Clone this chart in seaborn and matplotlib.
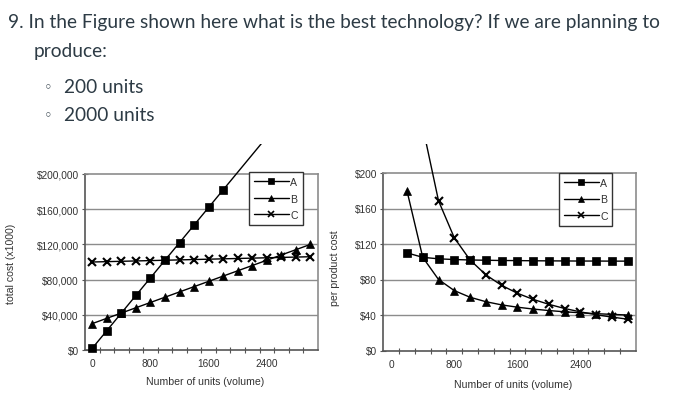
import matplotlib
matplotlib.use("Agg")
import matplotlib.pyplot as plt
import seaborn as sns
import pandas as pd
from matplotlib.patches import Rectangle
from matplotlib.lines import Line2D
from matplotlib.ticker import FixedLocator, NullFormatter

# ---------------- data ----------------
units = [0, 200, 400, 600, 800, 1000, 1200, 1400, 1600, 1800,
         2000, 2200, 2400, 2600, 2800, 3000]
total_A = [2000, 22000, 42000, 62000, 82000, 102000, 122000, 142000, 162000,
           182000, 202000, 222000, 242000, 262000, 282000, 302000]
total_B = [30000, 36000, 42000, 48000, 54000, 60000, 66000, 72000, 78000,
           84000, 90000, 96000, 102000, 108000, 114000, 120000]
total_C = [100000, 100400, 100800, 101200, 101600, 102000, 102400, 102800,
           103200, 103600, 104000, 104400, 104800, 105200, 105600, 106000]

unit_units = [200, 400, 600, 800, 1000, 1200, 1400, 1600, 1800,
              2000, 2200, 2400, 2600, 2800, 3000]
unit_A = [110, 105, 103.3, 102.5, 102, 101.7, 101.4, 101.3, 101.1,
          101, 100.9, 100.8, 100.8, 100.7, 100.7]
unit_B = [180, 105, 80, 67.5, 60, 55, 51.4, 48.8, 46.7,
          45, 43.6, 42.5, 41.5, 40.7, 40]
unit_C = [502, 252, 168.7, 127, 102, 85.3, 73.4, 64.5, 57.6,
          52, 47.3, 43.5, 40.3, 37.6, 35.3]

techs = ["A", "B", "C"]
x_tick_labels = [0, 800, 1600, 2400]
left_yticks = [0, 40000, 80000, 120000, 160000, 200000]
left_ytick_labels = ["$0", "$40,000", "$80,000", "$120,000", "$160,000", "$200,000"]
right_yticks = [0, 40, 80, 120, 160, 200]
right_ytick_labels = ["$0", "$40", "$80", "$120", "$160", "$200"]

question = "9. In the Figure shown here what is the best technology? If we are planning to"
question2 = "produce:"
bullets = ["200 units", "2000 units"]

# ---------------- style ----------------
sns.set_theme(style="white")
plt.rcParams["font.family"] = ["Liberation Sans", "DejaVu Sans"]

W, H = 684, 402
fig = plt.figure(figsize=(W / 100, H / 100), dpi=100)

def fx(px):
    return px / W

def fy(py):
    return 1 - py / H

txt_col = "#2D3B45"
fam = ["Lato", "DejaVu Sans"]
qsize = 13.8
fig.text(fx(8), fy(28), question, fontsize=qsize, family=fam, color=txt_col, va="baseline")
fig.text(fx(34), fy(57), question2, fontsize=qsize, family=fam, color=txt_col, va="baseline")
for i, b in enumerate(bullets):
    yb = 93 + 28 * i
    fig.text(fx(48), fy(yb - 5), "\u25e6", fontsize=10.5, family=["DejaVu Sans"],
             color=txt_col, va="center", ha="center")
    fig.text(fx(64), fy(yb), b, fontsize=qsize, family=fam, color=txt_col, va="baseline")

chart_col = "#333333"
clip_rect = Rectangle((0, 0), 1, fy(145), transform=fig.transFigure,
                      facecolor="none", edgecolor="none")
fig.add_artist(clip_rect)
clip_rect.set_visible(False)

markers = {"A": "s", "B": "^", "C": "x"}
msizes = {"A": 5.8, "B": 6.0, "C": 6.2}


def make_panel(rect, xs, series, ymax, yticks, ylabels, ylabel, ylabel_pos,
               xlabel_pos, legend_pos):
    ax = fig.add_axes(rect)
    df = pd.DataFrame({"units": list(xs) * 3,
                       "cost": series[0] + series[1] + series[2],
                       "tech": [t for t in techs for _ in xs]})
    for t in techs:
        sub = df[df["tech"] == t]
        n_before = len(ax.lines)
        sns.lineplot(data=sub, x="units", y="cost", ax=ax, color="black",
                     marker=markers[t], markersize=msizes[t],
                     markeredgewidth=1.5 if t == "C" else 0.5,
                     markeredgecolor="black", markerfacecolor="black",
                     linewidth=1.0, legend=False, zorder=3)
        line = ax.lines[n_before]
        vis = [v <= ymax for v in sub["cost"]]
        line.set_markevery(vis)
        line.set_clip_path(clip_rect)
    ax.set_xlim(-100, 3100)
    ax.set_ylim(0, ymax)
    # grid
    for yv in yticks[1:-1]:
        ax.axhline(yv, color="#8c8c8c", lw=1.0, zorder=1)
    # spines
    for s in ["top", "right"]:
        ax.spines[s].set_color("#8c8c8c")
        ax.spines[s].set_linewidth(1.2)
    for s in ["left", "bottom"]:
        ax.spines[s].set_color("#555555")
        ax.spines[s].set_linewidth(1.2)
    # x ticks: labels at category centres, marks at category borders
    ax.xaxis.set_major_locator(FixedLocator(x_tick_labels))
    ax.set_xticklabels([str(v) for v in x_tick_labels])
    ax.xaxis.set_minor_locator(FixedLocator([100 + 200 * k for k in range(15)]))
    ax.xaxis.set_minor_formatter(NullFormatter())
    ax.tick_params(axis="x", which="major", length=0, pad=6,
                   labelsize=7.3, labelcolor=chart_col)
    ax.tick_params(axis="x", which="minor", bottom=True, length=4,
                   direction="inout", color="#555555", width=0.8)
    ax.set_yticks(yticks)
    ax.set_yticklabels(ylabels)
    ax.tick_params(axis="y", which="major", left=True, length=5, direction="inout",
                   color="#555555", width=0.8, pad=2, labelsize=7.3,
                   labelcolor=chart_col)
    ax.set_xlabel("Number of units (volume)", fontsize=7.6, color=chart_col, va="center")
    ax.xaxis.set_label_coords(*xlabel_pos)
    ax.set_ylabel(ylabel, fontsize=7.6, color=chart_col, va="center")
    ax.yaxis.set_label_coords(*ylabel_pos)
    handles = [Line2D([], [], color="black", lw=1.0, marker=markers[t],
                      markersize=4.6, markeredgewidth=1.2 if t == "C" else 0.5,
                      markerfacecolor="black", markeredgecolor="black")
               for t in techs]
    leg = fig.legend(handles, techs, loc="upper left", bbox_to_anchor=legend_pos,
                     bbox_transform=fig.transFigure, frameon=True, fancybox=False,
                     framealpha=1, edgecolor="#333333", fontsize=7.6,
                     handlelength=3.3, handletextpad=0.15, labelspacing=0.62,
                     borderpad=0.45, borderaxespad=0, labelcolor=chart_col)
    leg.get_frame().set_linewidth(1.0)
    return ax


# left panel: x 85..317.7, y 175..351
l_rect = [fx(85), fy(351), fx(317.7) - fx(85), fy(175) - fy(351)]
make_panel(l_rect, units, [total_A, total_B, total_C], 200000, left_yticks,
           left_ytick_labels, "total cost (x1000)",
           ((11 - 85) / 232.7, (351 - 264) / 176), ((205 - 85) / 232.7, (351 - 382) / 176),
           (fx(249.3), fy(173.3)))

# right panel: x 383.3..635.7, y 174..351.5
r_rect = [fx(383.3), fy(351.5), fx(635.7) - fx(383.3), fy(174) - fy(351.5)]
make_panel(r_rect, unit_units, [unit_A, unit_B, unit_C], 200, right_yticks,
           right_ytick_labels, "per product cost",
           ((335 - 383.3) / 252.4, (351.5 - 268) / 177.5),
           ((513 - 383.3) / 252.4, (351.5 - 385) / 177.5),
           (fx(559), fy(174)))

fig.savefig("out.png", dpi=100)
